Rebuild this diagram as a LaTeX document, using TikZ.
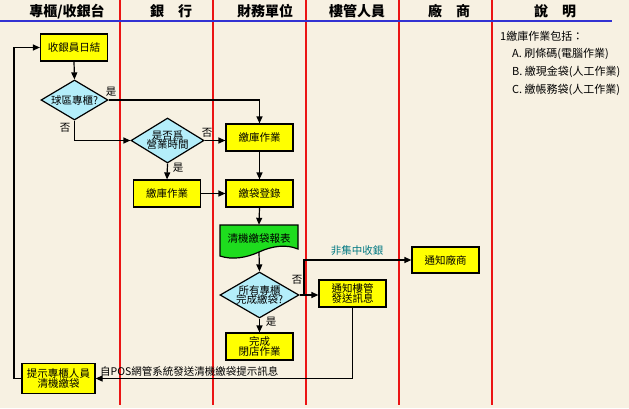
\documentclass[tikz,border=0pt]{standalone}
\usepackage{fontspec}
\setmainfont{Noto Sans CJK TC}
\usetikzlibrary{arrows.meta,shapes.geometric,calc}
\definecolor{bgc}{RGB}{247,241,226}
\definecolor{boxy}{RGB}{255,255,0}
\definecolor{diac}{RGB}{180,238,250}
\definecolor{docg}{RGB}{30,220,30}
\definecolor{lanered}{RGB}{235,20,20}
\definecolor{hblue}{RGB}{50,50,210}
\definecolor{tealc}{RGB}{0,120,130}
\tikzset{
  box/.style={rectangle, draw=black, fill=boxy, line width=1.2pt, minimum width=67pt, minimum height=27pt, inner sep=0pt, align=center, font=\fontsize{10.5}{11}\selectfont},
  dia/.style={diamond, draw=black, fill=diac, line width=1.2pt, inner sep=0pt},
  dtext/.style={align=center, font=\fontsize{10.5}{10}\selectfont},
  conn/.style={line width=1.2pt, -{Triangle[length=7pt,width=6pt]}},
  lab/.style={font=\fontsize{10.5}{11}\selectfont, inner sep=0pt},
  hdr/.style={font=\fontsize{14}{14}\selectfont\bfseries, inner sep=0pt},
  note/.style={font=\fontsize{11}{12}\selectfont, inner sep=0pt, anchor=west},
  lane/.style={draw=lanered, line width=1.3pt},
}
\begin{document}
\begin{tikzpicture}[x=1pt,y=-1pt]
\fill[bgc] (0,0) rectangle (629,408);
\useasboundingbox (0,0) rectangle (629,408);
% lanes
\foreach \lx in {120,213,306,399,492} \draw[lane] (\lx,0) -- (\lx,405);
\draw[hblue, line width=2pt] (0,21) -- (612,21);
% headers
\node[hdr] (h1) at (67,11.5) {專櫃/收銀台};
\node[hdr] (h2) at (171,11.5) {銀　行};
\node[hdr] (h3) at (265,11.5) {財務單位};
\node[hdr] (h4) at (357,11.5) {樓管人員};
\node[hdr] (h5) at (449,11.5) {廠　商};
\node[hdr] (h6) at (555,11.5) {說　明};
% notes
\node[note] (n1) at (500,36) {1繳庫作業包括：};
\node[note] (n2) at (512,54) {A. 刷條碼(電腦作業)};
\node[note] (n3) at (512,72) {B. 繳現金袋(人工作業)};
\node[note] (n4) at (512,90) {C. 繳帳務袋(人工作業)};
% nodes
\node[box] (ci) at (74,47.5) {收銀員日結};
\node[dia, minimum width=67pt, minimum height=40pt, label={[dtext]center:球區專櫃?}] (d1) at (74.5,100) {};
\node[dia, minimum width=73pt, minimum height=45pt, label={[dtext]center:{是否爲\\[-1pt]營業時間}}] (d2) at (167.5,140.5) {};
\node[box] (fin1) at (259.5,137.5) {繳庫作業};
\node[box] (bank) at (167,193.5) {繳庫作業};
\node[box] (reg) at (259.5,193.5) {繳袋登錄};
\draw[fill=docg, line width=1.2pt] (220,225) -- (298,225) -- (298,249)
  .. controls (286,244) and (272,246) .. (259,252)
  .. controls (246,258) and (232,260) .. (220,256) -- cycle;
\node[rectangle, minimum width=78pt, minimum height=27pt, inner sep=0pt, font=\fontsize{10.5}{11}\selectfont] (rep) at (259,238.5) {清機繳袋報表};
\node[dia, minimum width=79pt, minimum height=46pt, label={[dtext]center:{所有專櫃\\[-1pt]完成繳袋?}}] (d3) at (259.5,295) {};
\node[box] (close) at (259.5,346.5) {完成\\[-1pt]閉店作業};
\node[box] (notify) at (352.5,293.5) {通知樓管\\[-1pt]發送訊息};
\node[box, minimum height=26pt] (vendor) at (445.5,260) {通知廠商};
\node[box, minimum width=73pt, minimum height=30pt] (prompt) at (58.5,378.5) {提示專櫃人員\\[-1pt]清機繳袋};
\coordinate (br) at (304,295);
\coordinate (lp) at (14,213);
% connectors
\draw[conn] (ci.south) -- (d1.north);
\draw[conn] (d1.east) -| (fin1.north);
\node[lab] (l1) at (111,92) {是};
\draw[conn] (d1.south) |- (d2.west);
\node[lab] (l2) at (65,128) {否};
\draw[conn] (d2.east) -- (d2.east -| fin1.west);
\node[lab] (l3) at (207,133) {否};
\draw[conn] (d2.south) -- (bank.north);
\node[lab] (l4) at (178,168) {是};
\draw[conn] (bank.east) -- (reg.west);
\draw[conn] (fin1.south) -- (reg.north);
\draw[conn] (reg.south) -- (rep.north);
\draw[conn] (rep.south) -- (d3.north);
\draw[conn] (d3.south) -- (close.north);
\node[lab] (l5) at (271,322) {是};
\draw[conn] (d3.east) -- (d3.east -| notify.west);
\node[lab] (l6) at (297,280) {否};
\draw[conn] (br) |- (vendor.west);
\node[lab, text=tealc] (l7) at (357,251) {非集中收銀};
\draw[conn] (notify.south) |- (prompt.east);
\node[lab, anchor=west] (l8) at (100,371) {自POS網管系統發送清機繳袋提示訊息};
\draw[conn] (prompt.west) -| (lp) |- (ci.west);
\end{tikzpicture}
\end{document}
